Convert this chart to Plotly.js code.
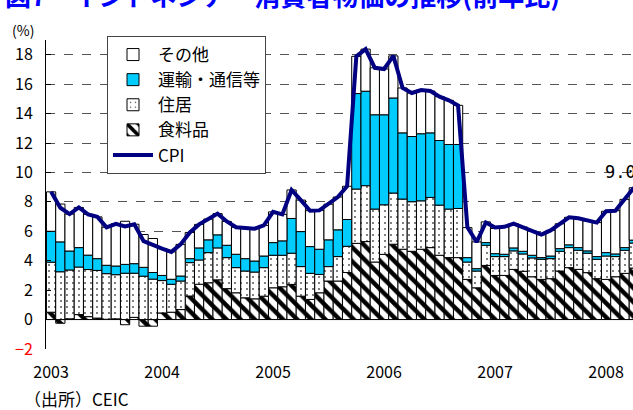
<!DOCTYPE html>
<html>
<head>
<meta charset="utf-8">
<script src="https://cdn.plot.ly/plotly-3.0.1.min.js"></script>
<style>
html,body{margin:0;padding:0;overflow:hidden;background:#fff;width:633px;height:410px;}
#chart{width:660px;height:410px;}
</style>
</head>
<body>
<div id="chart"></div>
<script>
// ---- data (monthly, Jan 2003 - Apr 2008), % y/y contribution ----
const years = ["2003","2004","2005","2006","2007","2008"];
const months = [];
for (const y of years) { for (let m = 1; m <= 12; m++) { if (y === "2008" && m > 4) break; months.push(y + "-" + String(m).padStart(2, "0")); } }

const food = [0.5,-0.25,0.05,0.34,0.2,0.1,0.02,0.05,-0.35,0.15,-0.45,-0.45,
  0.45,0.5,0.68,1.6,2.4,2.5,2.7,2.1,1.82,1.48,1.41,1.59,
  2.16,2.23,2.39,1.59,1.37,1.82,2.62,2.62,3.2,5.18,5.3,3.91,
  4.43,5.12,4.78,4.64,4.78,4.89,4.37,4.21,4.21,2.73,2.16,3.68,
  3.0,3.0,3.41,3.28,2.91,2.73,2.78,3.30,3.53,3.41,3.19,2.78,
  2.73,2.91,3.14,3.5];
const housing = [3.4,3.25,3.32,3.23,3.2,3.24,3.1,3.0,3.15,3.0,2.95,2.75,
  2.2,1.9,1.94,2.27,1.65,2.05,2.17,2.11,1.71,1.82,1.82,1.94,
  2.21,2.14,2.12,2.01,1.77,1.25,0.98,1.66,1.78,3.69,3.8,3.6,
  3.37,3.48,3.41,3.37,3.29,3.41,3.41,3.3,3.34,1.18,1.14,1.37,
  1.28,1.28,1.26,1.18,1.28,1.37,1.36,1.34,1.36,1.30,1.32,1.32,
  1.59,1.37,1.57,1.7];
const transport = [2.1,2.03,1.29,1.32,0.98,0.8,0.57,0.59,0.6,0.65,0.6,0.45,
  0.35,0.34,0.34,0.27,0.82,0.87,0.89,0.84,0.91,0.84,0.75,0.79,
  0.86,0.98,2.36,2.38,1.82,1.71,1.82,1.82,1.82,6.49,6.42,6.41,
  6.12,6.46,4.5,4.43,4.56,4.39,4.39,4.39,4.35,0.3,0.16,0.18,
  0.2,0.16,0.2,0.18,0.18,0.11,0.18,0.18,0.19,0.18,0.16,0.18,
  0.23,0.18,0.18,0.2];
const other = [2.68,2.57,2.51,2.73,2.77,2.84,2.58,2.87,2.93,2.68,2.23,2.31,
  1.82,1.86,2.15,1.78,1.6,1.41,1.44,1.62,1.83,2.08,2.2,2.08,
  2.09,1.8,1.94,2.14,2.44,2.64,2.42,2.23,2.26,2.53,2.86,3.19,
  3.11,2.86,3.05,2.96,2.97,2.84,2.98,3.0,2.66,2.04,1.82,1.41,
  1.71,1.86,1.65,1.65,1.64,1.56,1.74,1.69,1.87,1.99,2.04,2.31,
  2.81,2.94,3.28,3.56];
const cpi = [8.68,7.60,7.17,7.62,7.15,6.98,6.27,6.51,6.33,6.48,5.33,5.06,
  4.82,4.60,5.11,5.92,6.47,6.83,7.20,6.67,6.27,6.22,6.18,6.40,
  7.32,7.15,8.81,8.12,7.40,7.42,7.84,8.33,9.06,17.89,18.38,17.11,
  17.03,17.92,15.74,15.40,15.60,15.53,15.15,14.90,14.55,6.29,5.27,6.60,
  6.26,6.30,6.52,6.29,6.01,5.77,6.06,6.51,6.95,6.88,6.71,6.59,
  7.36,7.40,8.17,8.96];

const seriesNames = ["食料品","住居","運輸・通信等","その他","CPI"];
const yTicks = [-2,0,2,4,6,8,10,12,14,16,18];
const yTickText = yTicks.map(v => v < 0 ? '<span style="color:#ff0000">−' + Math.abs(v) + '</span>' : String(v));
const xTickVals = years.map(y => y + "-01");

const FONT = "Noto Sans CJK JP, Noto Sans, sans-serif";
const L = 46, PW = 614, T = 40, PH = 309;
const px = x => (x - L) / PW;
const py = y => (T + PH - y) / PH;

const barLine = {color: "#000", width: 1};
const traces = [
  {type: "bar", name: seriesNames[0], x: months, y: food, legendrank: 4,
   marker: {color: "#fff", line: barLine, pattern: {shape: "\\", fgcolor: "#000", bgcolor: "#fff", size: 10, solidity: 0.45}}},
  {type: "bar", name: seriesNames[1], x: months, y: housing, legendrank: 3,
   marker: {color: "#fff", line: barLine, pattern: {shape: ".", fgcolor: "#444", bgcolor: "#fff", size: 6, solidity: 0.07}}},
  {type: "bar", name: seriesNames[2], x: months, y: transport, legendrank: 2,
   marker: {color: "#00CCFF", line: barLine}},
  {type: "bar", name: seriesNames[3], x: months, y: other, legendrank: 1,
   marker: {color: "#fff", line: barLine}},
  {type: "scatter", mode: "lines", name: seriesNames[4], x: months, y: cpi, legendrank: 5,
   line: {color: "#000080", width: 4}}
];

const last = cpi.length - 1;
const layout = {
  width: 660, height: 410,
  margin: {l: L, r: 0, t: T, b: 410 - T - PH, pad: 0},
  paper_bgcolor: "#fff", plot_bgcolor: "#fff",
  font: {family: FONT, color: "#000"},
  barmode: "relative", bargap: 0,
  showlegend: true,
  legend: {x: px(107), y: py(36), xanchor: "left", yanchor: "top", bgcolor: "#fff",
           bordercolor: "#444", borderwidth: 1, font: {size: 17, family: FONT, color: "#000"},
           itemwidth: 40, tracegroupgap: 0},
  xaxis: {type: "category", range: [-0.55, -0.55 + PW / 9.25], tickmode: "array",
          tickvals: xTickVals, ticktext: years, showgrid: false, zeroline: false, showline: false,
          ticks: "", tickfont: {size: 16, family: FONT, color: "#000"}, ticklabelstandoff: 12},
  yaxis: {range: [-2, 19], tickmode: "array", tickvals: yTicks, ticktext: yTickText,
          showgrid: true, gridcolor: "#555", griddash: "dash", gridwidth: 1,
          zeroline: true, zerolinecolor: "#000", zerolinewidth: 1,
          showline: true, linecolor: "#000", linewidth: 1,
          ticks: "inside", ticklen: 5, tickcolor: "#000",
          tickfont: {size: 16, family: FONT, color: "#000"}, ticklabelstandoff: 9},
  annotations: [
    {xref: "paper", yref: "paper", x: px(3), y: py(-6), xanchor: "left", yanchor: "middle",
     text: "<b>図7　インドネシア　消費者物価の推移(前年比)</b>", showarrow: false,
     font: {size: 26, family: FONT, color: "#0000FF"}},
    {xref: "paper", yref: "paper", x: px(10), y: py(30), xanchor: "left", yanchor: "middle",
     text: "(%)", showarrow: false, font: {size: 14, family: FONT, color: "#000"}},
    {xref: "paper", yref: "paper", x: px(22), y: py(398), xanchor: "left", yanchor: "middle",
     text: "（出所）CEIC", showarrow: false, font: {size: 17, family: FONT, color: "#000"}},
    {xref: "x", yref: "y", x: months[last], y: cpi[last], xanchor: "left", yanchor: "middle",
     xshift: -31, yshift: 16, text: cpi[last].toFixed(1), showarrow: false,
     font: {size: 17, family: "DejaVu Sans Mono", color: "#000"}}
  ]
};

Plotly.newPlot("chart", traces, layout, {displayModeBar: false, staticPlot: true});
</script>
</body>
</html>
